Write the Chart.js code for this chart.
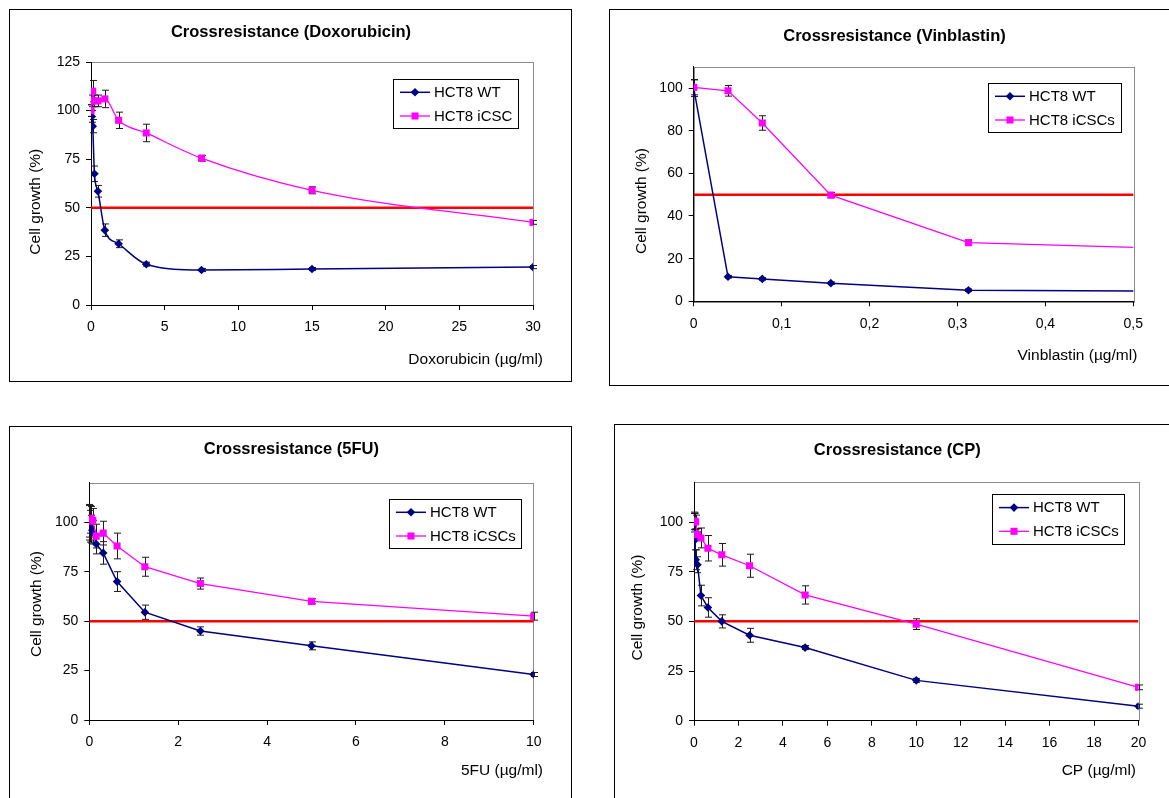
<!DOCTYPE html>
<html lang="de">
<head>
<meta charset="UTF-8">
<title>Crossresistance HCT8 WT / iCSCs</title>
<script src="https://cdn.jsdelivr.net/npm/chart.js"></script>
<style>
  body { margin: 0; background: #fff; }
  .panel { position: absolute; border: 1px solid #000; background: #fff; }
  .panel canvas { display: block; }
</style>
</head>
<body>
<div class="panel" style="left:9px;top:9px"><canvas id="doxoChart" width="561" height="371"></canvas></div>
<div class="panel" style="left:609px;top:9px"><canvas id="vinChart" width="560" height="375"></canvas></div>
<div class="panel" style="left:9px;top:426px"><canvas id="fuChart" width="561" height="372"></canvas></div>
<div class="panel" style="left:614px;top:424px"><canvas id="cpChart" width="555" height="374"></canvas></div>

<script>
// ---- Doxorubicin ----
const doxoConc   = [0, 0.0586, 0.117, 0.234, 0.469, 0.938, 1.875, 3.75, 7.5, 15, 30];
const doxoWT     = [100, 97, 92, 67.5, 58.5, 38.5, 31.5, 21, 18, 18.5, 19.5];
const doxoWTErr  = [3, 3, 3.4, 4, 3, 3.2, 2, 1, 0.8, 0.8, 0.8];
const doxoCSC    = [100, 105, 110, 105, 105, 106, 95, 88.5, 75.5, 59, 42.5];
const doxoCSCErr = [3, 3, 5.5, 3, 3, 4.5, 4.2, 4.5, 1.5, 1.8, 1];
const doxoXTicks = [0, 5, 10, 15, 20, 25, 30];
const doxoYTicks = [0, 25, 50, 75, 100, 125];

// ---- Vinblastin ----
const vinConc   = [0, 0.039, 0.078, 0.156, 0.3125, 0.625];
const vinWT     = [100, 11.5, 10.5, 8.5, 5.2, 4.6];
const vinWTErr  = [4, 0.6, 0.6, 0.6, 0.6, 0];
const vinCSC    = [100.3, 98.7, 83.6, 49.8, 27.5, 23.8];
const vinCSCErr = [3.5, 2.5, 3.4, 1.2, 1, 0];
const vinXTicks = [0, 0.1, 0.2, 0.3, 0.4, 0.5];
const vinYTicks = [0, 20, 40, 60, 80, 100];

// ---- 5FU ----
const fuConc   = [0, 0.0195, 0.039, 0.078, 0.156, 0.3125, 0.625, 1.25, 2.5, 5, 10];
const fuWT     = [100, 98, 96.5, 95, 89, 84.5, 70, 54.5, 45, 37.5, 23];
const fuWTErr  = [9, 8, 7, 6, 5, 5.7, 5, 3.6, 2.1, 2, 1];
const fuCSC    = [100.5, 101.5, 102, 101, 93, 94.5, 88, 77.5, 69, 60, 52.5];
const fuCSCErr = [8, 7, 6, 6, 6, 6, 6.5, 4.8, 2.8, 1.3, 2];
const fuXTicks = [0, 2, 4, 6, 8, 10];
const fuYTicks = [0, 25, 50, 75, 100];

// ---- CP ----
const cpConc   = [0, 0.039, 0.078, 0.156, 0.3125, 0.625, 1.25, 2.5, 5, 10, 20];
const cpWT     = [100, 91, 81, 78.5, 63, 57, 50, 43, 36.8, 20.3, 7.3];
const cpWTErr  = [5, 5, 5, 4, 5.2, 4.9, 3.3, 3.5, 1, 1, 1];
const cpCSC    = [100.3, 100.5, 100, 93.7, 92, 86.8, 83.5, 78, 63.3, 48.6, 16.8];
const cpCSCErr = [4, 4, 3.5, 3, 5, 6.4, 5.7, 5.8, 4.6, 2.7, 1.2];
const cpXTicks = [0, 2, 4, 6, 8, 10, 12, 14, 16, 18, 20];
const cpYTicks = [0, 25, 50, 75, 100];

const ic50Level = 50;

const FONT = '"Liberation Sans", Arial, Helvetica, sans-serif';
Chart.defaults.font.family = FONT;
Chart.defaults.color = '#000';

function toPoints(xs, ys) {
    return xs.map((x, i) => ({ x: x, y: ys[i] }));
}

function drawMarker(ctx, style, x, y, r, color) {
    ctx.fillStyle = color;
    ctx.beginPath();
    if (style === 'rectRot') {
        ctx.moveTo(x, y - r);
        ctx.lineTo(x + r, y);
        ctx.lineTo(x, y + r);
        ctx.lineTo(x - r, y);
    } else {
        const s = r * Math.SQRT1_2;
        ctx.rect(x - s, y - s, 2 * s, 2 * s);
    }
    ctx.closePath();
    ctx.fill();
}

// plot frame, error bars, axis titles and boxed legend
const panelDecor = {
    id: 'panelDecor',
    beforeDraw(chart) {
        const { ctx, chartArea: a } = chart;
        ctx.save();
        ctx.strokeStyle = '#8c8c8c';
        ctx.lineWidth = 1;
        ctx.strokeRect(Math.round(a.left) + 0.5, Math.round(a.top) + 0.5,
            Math.round(a.right - a.left), Math.round(a.bottom - a.top));
        ctx.restore();
    },
    beforeDatasetsDraw(chart) {
        const { ctx, chartArea: a } = chart;
        const yScale = chart.scales.y;
        ctx.save();
        ctx.strokeStyle = '#1a1a1a';
        ctx.lineWidth = 1;
        chart.data.datasets.forEach((ds, i) => {
            if (!ds.errors) return;
            const meta = chart.getDatasetMeta(i);
            meta.data.forEach((pt, j) => {
                const e = ds.errors[j];
                if (!e || pt.x > a.right + 1) return;
                const v = ds.data[j].y;
                const top = yScale.getPixelForValue(v + e);
                const bot = yScale.getPixelForValue(v - e);
                const x = Math.round(pt.x) + 0.5;
                ctx.beginPath();
                ctx.moveTo(x, top); ctx.lineTo(x, bot);
                ctx.moveTo(x - 3.5, top); ctx.lineTo(x + 3.5, top);
                ctx.moveTo(x - 3.5, bot); ctx.lineTo(x + 3.5, bot);
                ctx.stroke();
            });
        });
        ctx.restore();
    },
    afterDraw(chart, args, opts) {
        const ctx = chart.ctx;
        ctx.save();
        ctx.font = '15.5px ' + FONT;
        ctx.fillStyle = '#000';
        ctx.textBaseline = 'middle';
        // x axis title, right aligned
        ctx.textAlign = 'right';
        ctx.fillText(opts.xTitle.text, opts.xTitle.right, opts.xTitle.y);
        // y axis title, rotated
        const t = opts.yTitle;
        ctx.translate(t.x, t.y);
        ctx.rotate(-Math.PI / 2);
        ctx.textAlign = 'center';
        ctx.fillText(t.text, 0, 0);
        ctx.restore();

        // legend
        const L = opts.legend;
        ctx.save();
        ctx.fillStyle = '#fff';
        ctx.fillRect(L.x, L.y, L.w, L.h);
        ctx.strokeStyle = '#000';
        ctx.lineWidth = 1;
        ctx.strokeRect(Math.round(L.x) + 0.5, Math.round(L.y) + 0.5, L.w, L.h);
        const items = chart.data.datasets.filter(d => d.legendRow !== undefined)
            .sort((p, q) => p.legendRow - q.legendRow);
        items.forEach((d, k) => {
            const cy = L.y + 13.3 + k * 23.7;
            ctx.strokeStyle = d.borderColor;
            ctx.lineWidth = d.borderWidth;
            ctx.beginPath();
            ctx.moveTo(L.x + 7, cy);
            ctx.lineTo(L.x + 37, cy);
            ctx.stroke();
            drawMarker(ctx, d.pointStyle, L.x + 22, cy, d.pointRadius, d.borderColor);
            ctx.fillStyle = '#000';
            ctx.font = '15px ' + FONT;
            ctx.textAlign = 'left';
            ctx.textBaseline = 'middle';
            ctx.fillText(d.label, L.x + 41, cy + 0.5);
        });
        ctx.restore();
    }
};

function panelChart(canvasId, lay, ax, wt, csc, smooth) {
    const W = lay.w, H = lay.h, p = lay.plot;
    const padR = W - p.r;
    // keep room for the y tick labels, otherwise centre the title where it stands
    const padL = Math.max(0, Math.min(2 * lay.titleX - W + padR, p.l - 38));
    const tlh = 16.5 * 1.2;
    const tTop = lay.titleY - tlh / 2;
    const curve = smooth ? 'monotone' : 'default';

    return new Chart(document.getElementById(canvasId), {
        type: 'line',
        data: {
            datasets: [
                {
                    label: csc.label,
                    data: toPoints(ax.conc, csc.values),
                    errors: csc.errors,
                    legendRow: 1,
                    borderColor: '#FF00FF',
                    backgroundColor: '#FF00FF',
                    borderWidth: 1.3,
                    pointStyle: 'rect',
                    pointRadius: 5,
                    pointBorderWidth: 0,
                    pointHoverRadius: 5,
                    cubicInterpolationMode: curve,
                    order: 0
                },
                {
                    label: wt.label,
                    data: toPoints(ax.conc, wt.values),
                    errors: wt.errors,
                    legendRow: 0,
                    borderColor: '#000080',
                    backgroundColor: '#000080',
                    borderWidth: 1.5,
                    pointStyle: 'rectRot',
                    pointRadius: 4.3,
                    pointBorderWidth: 0,
                    pointHoverRadius: 4.3,
                    cubicInterpolationMode: curve,
                    order: 1
                },
                {
                    label: 'IC50',
                    data: [{ x: ax.xRange[0], y: ic50Level }, { x: ax.redEnd, y: ic50Level }],
                    borderColor: '#FF0000',
                    borderWidth: 2.5,
                    pointRadius: 0,
                    order: 2
                }
            ]
        },
        options: {
            responsive: false,
            animation: false,
            events: [],
            layout: { padding: { left: padL, right: padR, top: 0, bottom: 0 } },
            plugins: {
                legend: { display: false },
                tooltip: { enabled: false },
                title: {
                    display: true,
                    text: lay.title,
                    color: '#000',
                    font: { size: 16.5, weight: 'bold', lineHeight: 1.2 },
                    padding: { top: tTop, bottom: p.t - tlh - tTop }
                },
                panelDecor: {
                    yTitle: { text: 'Cell growth (%)', x: lay.yTitle.x, y: lay.yTitle.y },
                    xTitle: { text: ax.xTitle, right: lay.xTitle.right, y: lay.xTitle.y },
                    legend: lay.legend
                }
            },
            scales: {
                x: {
                    type: 'linear',
                    min: ax.xRange[0],
                    max: ax.xRange[1],
                    afterBuildTicks: s => { s.ticks = ax.xTicks.map(v => ({ value: v })); },
                    afterFit: s => { s.height = H - p.b; },
                    ticks: {
                        font: { size: 14 }, color: '#000', padding: 9,
                        autoSkip: false, maxRotation: 0,
                        callback: v => String(v).replace('.', ',')
                    },
                    grid: { drawOnChartArea: false, tickLength: 5, color: '#000', tickColor: '#000' },
                    border: { color: '#000', width: 1 }
                },
                y: {
                    type: 'linear',
                    min: ax.yRange[0],
                    max: ax.yRange[1],
                    afterBuildTicks: s => { s.ticks = ax.yTicks.map(v => ({ value: v })); },
                    afterFit: s => { s.width = p.l - padL; },
                    ticks: { font: { size: 14 }, color: '#000', padding: 6, autoSkip: false },
                    grid: { drawOnChartArea: false, tickLength: 5, color: '#000', tickColor: '#000' },
                    border: { color: '#000', width: 1 }
                }
            }
        },
        plugins: [panelDecor]
    });
}

panelChart('doxoChart',
    { w: 561, h: 371, plot: { l: 81, t: 52, r: 523, b: 295 }, title: 'Crossresistance (Doxorubicin)',
      titleX: 281, titleY: 22.5, yTitle: { x: 26, y: 191.7 }, xTitle: { right: 533, y: 350 },
      legend: { x: 383, y: 69, w: 125, h: 49 } },
    { conc: doxoConc, xRange: [0, 30], redEnd: 30, yRange: [0, 125], xTicks: doxoXTicks, yTicks: doxoYTicks,
      xTitle: 'Doxorubicin (µg/ml)' },
    { label: 'HCT8 WT', values: doxoWT, errors: doxoWTErr },
    { label: 'HCT8 iCSC', values: doxoCSC, errors: doxoCSCErr },
    true);

panelChart('vinChart',
    { w: 560, h: 375, plot: { l: 83.7, t: 56.7, r: 523.3, b: 291.3 }, title: 'Crossresistance (Vinblastin)',
      titleX: 288, titleY: 26, yTitle: { x: 32, y: 191 }, xTitle: { right: 527.3, y: 345.5 },
      legend: { x: 378, y: 73, w: 133, h: 49 } },
    { conc: vinConc, xRange: [0, 0.5], redEnd: 0.625, yRange: [0, 110], xTicks: vinXTicks, yTicks: vinYTicks,
      xTitle: 'Vinblastin (µg/ml)' },
    { label: 'HCT8 WT', values: vinWT, errors: vinWTErr },
    { label: 'HCT8 iCSCs', values: vinCSC, errors: vinCSCErr },
    false);

panelChart('fuChart',
    { w: 561, h: 372, plot: { l: 79.3, t: 55.7, r: 523.7, b: 293 }, title: 'Crossresistance (5FU)',
      titleX: 281.3, titleY: 22, yTitle: { x: 27, y: 177 }, xTitle: { right: 533, y: 344 },
      legend: { x: 379, y: 72, w: 132, h: 49 } },
    { conc: fuConc, xRange: [0, 10], redEnd: 10, yRange: [0, 120], xTicks: fuXTicks, yTicks: fuYTicks,
      xTitle: '5FU (µg/ml)' },
    { label: 'HCT8 WT', values: fuWT, errors: fuWTErr },
    { label: 'HCT8 iCSCs', values: fuCSC, errors: fuCSCErr },
    false);

panelChart('cpChart',
    { w: 555, h: 374, plot: { l: 79, t: 57.3, r: 523.5, b: 295.7 }, title: 'Crossresistance (CP)',
      titleX: 287.8, titleY: 25, yTitle: { x: 23, y: 182.5 }, xTitle: { right: 521, y: 346 },
      legend: { x: 377, y: 69.3, w: 132, h: 50 } },
    { conc: cpConc, xRange: [0, 20], redEnd: 20, yRange: [0, 120], xTicks: cpXTicks, yTicks: cpYTicks,
      xTitle: 'CP (µg/ml)' },
    { label: 'HCT8 WT', values: cpWT, errors: cpWTErr },
    { label: 'HCT8 iCSCs', values: cpCSC, errors: cpCSCErr },
    false);
</script>
</body>
</html>
